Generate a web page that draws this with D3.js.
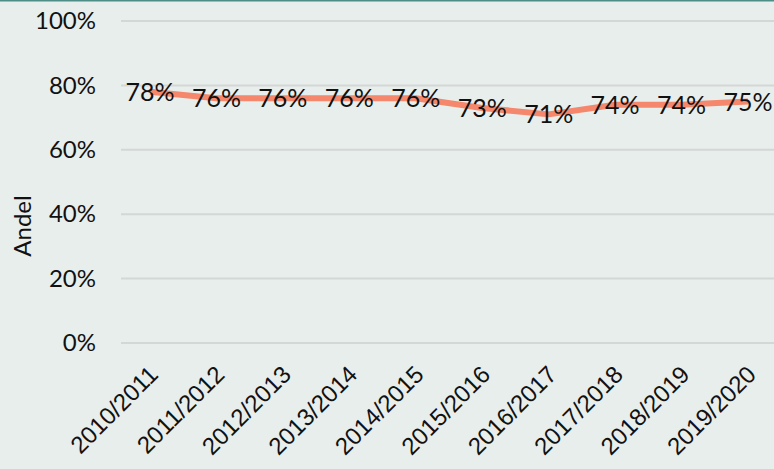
<!DOCTYPE html>
<html><head><meta charset="utf-8">
<script src="https://cdn.jsdelivr.net/npm/d3@7"></script>
<style>
html,body{margin:0;padding:0;background:#e8eeec;}
svg{display:block;font-family:Lato, "Open Sans", sans-serif;}
</style></head>
<body>
<svg id="c" width="774" height="469"></svg>
<script>
const categories = ["2010/2011","2011/2012","2012/2013","2013/2014","2014/2015","2015/2016","2016/2017","2017/2018","2018/2019","2019/2020"];
const values = [0.78,0.76,0.76,0.76,0.76,0.73,0.71,0.74,0.74,0.75];
const yTicks = [0,0.2,0.4,0.6,0.8,1.0];
const yTitle = "Andel";

const svg = d3.select("#c");
const W = 774, H = 469;
svg.append("rect").attr("width",W).attr("height",H).attr("fill","#e8eeec");
svg.append("line").attr("x1",0).attr("x2",W).attr("y1",0.75).attr("y2",0.75).attr("stroke","#4f8e86").attr("stroke-width",1.5);

const x = d3.scalePoint().domain(categories).range([150,748]);
const y = d3.scaleLinear().domain([0,1]).range([343,21]);

// grid
const gx0 = 121, gx1 = 774;
svg.append("g").selectAll("line").data(yTicks).join("line")
  .attr("x1",gx0).attr("x2",gx1)
  .attr("y1",d=>y(d)).attr("y2",d=>y(d))
  .attr("stroke","#d3d7d5").attr("stroke-width",2);

// y axis
const yAxis = d3.axisLeft(y).tickValues(yTicks).tickFormat(d3.format(".0%")).tickSize(0).tickPadding(0);
const gy = svg.append("g").attr("transform","translate(96,0)").call(yAxis);
gy.select(".domain").remove();
gy.selectAll("text").attr("font-size",24).attr("fill","#111").attr("font-family","Lato, sans-serif");

// y title
svg.append("text").attr("transform","translate(31,226) rotate(-90)")
  .attr("text-anchor","middle").attr("font-size",24).attr("fill","#111").text(yTitle);

// x axis
const xAxis = d3.axisBottom(x).tickSize(0).tickPadding(0);
const gxa = svg.append("g").attr("transform","translate(0,370)").call(xAxis);
gxa.select(".domain").remove();
gxa.selectAll("text").attr("font-size",24).attr("fill","#111")
  .attr("text-anchor","end").attr("dy","0.35em")
  .attr("transform","translate(3,0) rotate(-45)");

// line
const line = d3.line().x((d,i)=>x(categories[i])).y(d=>y(d));
svg.append("path").datum(values).attr("d",line)
  .attr("fill","none").attr("stroke","#f4876c").attr("stroke-width",6)
  .attr("stroke-linejoin","round").attr("stroke-linecap","butt");

// labels
svg.append("g").selectAll("text").data(values).join("text")
  .attr("x",(d,i)=>x(categories[i])).attr("y",d=>y(d))
  .attr("dy","0.36em").attr("text-anchor","middle")
  .attr("font-size",25).attr("fill","#111")
  .text(d=>d3.format(".0%")(d));
</script>
</body></html>
